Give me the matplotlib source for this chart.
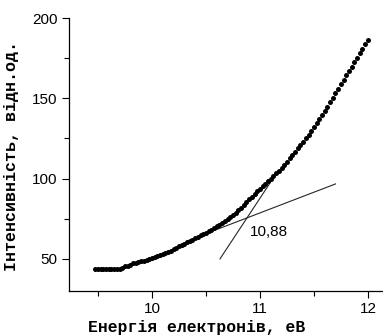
import numpy as np
import matplotlib
matplotlib.use('Agg')
import matplotlib.pyplot as plt
from matplotlib.ticker import MultipleLocator

# measured intensity, x step 0.025 eV starting at 9.475 eV
intensity = [44.0, 44.0, 44.0, 44.0, 44.0, 44.0, 44.0, 44.0, 44.0, 44.0,
             44.3, 45.6, 45.8, 46.4, 47.2, 47.4, 47.8, 48.4, 48.6, 49.3, 50.1, 50.4,
             51.0, 51.8, 52.2, 53.0, 53.8, 54.4, 55.2, 56.0, 57.0, 57.8,
             58.6, 59.4, 60.4, 61.2, 62.0, 62.8, 63.8, 64.6, 65.4, 66.4,
             67.4, 68.2, 69.2, 70.2, 71.2, 72.4, 73.4, 74.8, 76.0, 77.4,
             78.8, 80.4, 82.0, 83.6, 85.4, 87.2, 88.8, 90.4, 92.0, 93.6,
             95.2, 96.8, 98.4, 100.0, 101.6, 103.2, 104.8, 106.8, 108.6, 110.6,
             112.6, 114.6, 116.8, 118.8, 120.8, 123.0, 125.2, 127.4, 129.6, 132.0,
             134.4, 137.0, 139.4, 142.0, 144.8, 147.6, 150.4, 153.2, 156.0, 158.8,
             161.6, 164.4, 167.0, 169.8, 172.6, 175.4, 178.2, 181.0, 183.6, 186.4]
energy_start = 9.475
energy_step = 0.025

# tangent lines (end points)
shallow_x = [10.51, 11.70]
shallow_y = [66.0, 96.7]
steep_x = [10.63, 11.17]
steep_y = [50.0, 105.1]
onset_label = '10,88'

energy = energy_start + energy_step * np.arange(len(intensity))

fig = plt.figure(figsize=(3.83, 3.35), dpi=100)
ax = fig.add_axes([0.180, 0.1313, 0.820, 0.8147])

ax.plot(shallow_x, shallow_y, color='0.15', lw=0.8)
ax.plot(steep_x, steep_y, color='0.15', lw=0.8)
ax.plot(energy, intensity, 'o', color='black', markersize=3.6, markeredgewidth=0)
ax.text(10.907, 66.5, onset_label, fontsize=11, family='Liberation Sans', va='center')

ax.set_xlim(9.231, 12.14)
ax.set_ylim(30, 200)
ax.xaxis.set_major_locator(MultipleLocator(1))
ax.xaxis.set_minor_locator(MultipleLocator(0.5))
ax.yaxis.set_major_locator(MultipleLocator(50))
ax.yaxis.set_minor_locator(MultipleLocator(25))
ax.tick_params(which='major', length=5, width=0.8, labelsize=11, pad=3)
ax.tick_params(which='minor', length=3.5, width=0.8)
for lab in ax.get_xticklabels() + ax.get_yticklabels():
    lab.set_family('Liberation Sans')

ax.spines['top'].set_visible(False)
ax.spines['right'].set_visible(False)
ax.spines['left'].set_linewidth(0.9)
ax.spines['bottom'].set_linewidth(0.9)

ax.set_xlabel('Енергія електронів, еВ', family='Liberation Mono', fontweight='bold',
              fontsize=11.8)
ax.xaxis.set_label_coords(0.405, -0.105)
ax.set_ylabel('Інтенсивність, відн.од.', family='Liberation Mono', fontweight='bold',
              fontsize=12)
ax.yaxis.set_label_coords(-0.158, 0.493)

fig.savefig('out.png', dpi=100)
